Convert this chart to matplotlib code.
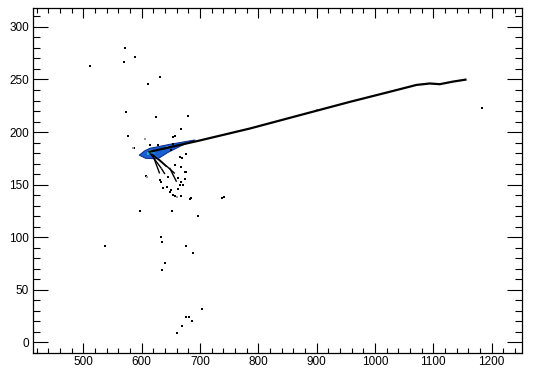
import matplotlib
matplotlib.use("Agg")
import matplotlib.pyplot as plt
from matplotlib.ticker import MultipleLocator

plt.rcParams['font.family'] = ['Liberation Sans', 'DejaVu Sans']

# main ridge line
line_x = [612, 700, 786, 871, 957, 1014, 1043, 1071, 1094, 1111, 1134, 1157]
line_y = [181, 192, 203.4, 216, 228.7, 236.7, 240.8, 244.8, 246.2, 245.5, 248, 250]

# dense (coloured) cluster outline
wedge_x = [596, 605, 614, 650, 692, 670, 645, 628, 607]
wedge_y = [178, 182, 184.5, 188.5, 192.5, 187.5, 180.5, 174.5, 175]
core_x = [616, 611, 621]
core_y = [181.5, 179.5, 180]
core_c = ['#5fd070', '#22b0d8', '#1e7fe0']

# dark streaks leaving the cluster
streak_x0 = [615, 618, 620, 630, 648, 634]
streak_y0 = [179.6, 179, 177, 174, 166, 165.4]
streak_x1 = [634, 643, 631, 657, 660, 640]
streak_y1 = [165.4, 167, 160.6, 160.6, 152.7, 160]

# isolated bins
dot_x = [571, 588, 570, 512, 631, 611, 574, 624, 680, 668, 577, 657, 587, 614,
         607, 633, 677, 666, 667, 676, 643, 651, 657, 667, 683, 738, 741, 597,
         653, 697, 633, 635, 677, 538, 689, 640, 635, 704, 677, 681, 687, 669,
         660, 628, 654, 654, 651, 669, 674, 657, 631, 663, 666, 671, 648, 654,
         684, 637, 1183, 662, 668, 646, 675]
dot_y = [280, 271, 267, 263, 252, 246, 219, 214.5, 215, 202.5, 196, 196, 185, 188,
         158, 152.7, 179, 176, 167, 162, 148, 145, 139.4, 139, 136, 137, 138, 125,
         125, 120, 99.8, 95.6, 91.8, 91.5, 84.6, 75.7, 68.7, 31.7, 24.3, 24.3, 20.2, 15.8,
         9.1, 187.6, 195.4, 189, 182.8, 175, 162.2, 168.5, 154.3, 156, 149.5, 149.5, 143, 140.3,
         137, 147, 223, 146, 152, 157, 155]
faint_x = [606, 609, 586, 644, 660, 900]
faint_y = [193, 157.4, 185, 186, 138, 221]

fig = plt.figure(figsize=(5.42, 3.68), dpi=100)
ax = fig.add_axes([33 / 542, 1 - 353 / 368, (522 - 33) / 542, (353 - 8) / 368])
ax.set_xlim(414, 1252)
ax.set_ylim(-10.2, 318)

ax.fill(wedge_x, wedge_y, facecolor='#1a5fd0', edgecolor='#0b2a8c', lw=0.7, zorder=2)
ax.scatter(core_x, core_y, c=core_c, marker='s', s=4, linewidths=0, zorder=3)
for x0, y0, x1, y1 in zip(streak_x0, streak_y0, streak_x1, streak_y1):
    ax.plot([x0, x1], [y0, y1], color='black', lw=1.0, solid_capstyle='butt', zorder=3)
ax.plot(line_x, line_y, color='black', lw=1.6, solid_capstyle='butt', zorder=4)
ax.scatter(dot_x, dot_y, c='black', marker='s', s=1.2, linewidths=0, zorder=3)
ax.scatter(faint_x, faint_y, c='#9a9a9a', marker='s', s=1.2, linewidths=0, zorder=3)

ax.xaxis.set_major_locator(MultipleLocator(100))
ax.xaxis.set_minor_locator(MultipleLocator(20))
ax.yaxis.set_major_locator(MultipleLocator(50))
ax.yaxis.set_minor_locator(MultipleLocator(10))
ax.tick_params(axis='x', which='both', direction='in', top=True, bottom=True,
               labelsize=8.5, pad=2.5, width=0.8, colors='black')
ax.tick_params(axis='x', which='major', length=7.5)
ax.tick_params(axis='x', which='minor', length=3.8)
ax.tick_params(axis='y', which='both', direction='in', left=True, right=True,
               labelsize=8.5, pad=3, width=0.8, colors='black')
ax.tick_params(axis='y', which='major', length=10.6)
ax.tick_params(axis='y', which='minor', length=5.3)
for s in ax.spines.values():
    s.set_linewidth(0.9)

fig.savefig('out.png', dpi=100)
